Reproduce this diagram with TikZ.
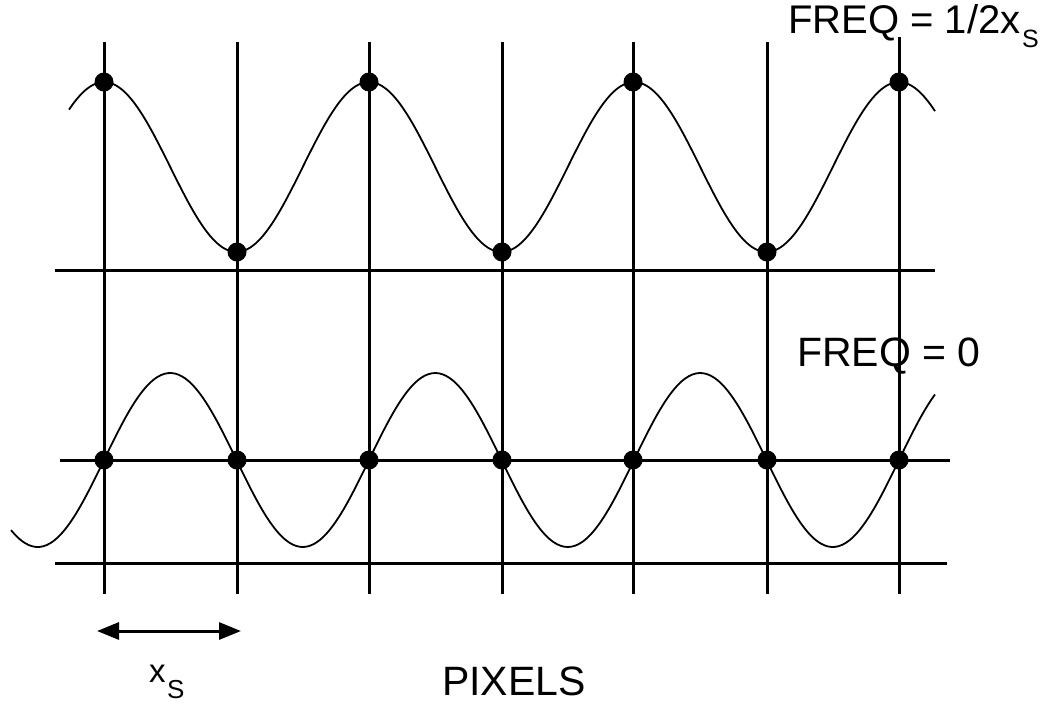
\documentclass[tikz,border=0pt]{standalone}
\usepackage{fontspec}
\setmainfont{Liberation Sans}
\usetikzlibrary{arrows.meta}
\newcommand\mysubS[2]{\kern1.5pt\raisebox{-#2pt}{\fontsize{#1}{#1}\selectfont S}}
\tikzset{
  grid/.style={line width=3pt},
  wave/.style={line width=1.8pt, line join=round},
  sample/.style={circle, fill=black, inner sep=0pt, minimum size=19pt},
  lbl/.style={anchor=base west, inner sep=0pt, font=\fontsize{41}{48}\selectfont},
  dimarrow/.style={line width=3pt, {Triangle[length=22pt,width=17pt]}-{Triangle[length=22pt,width=17pt]}}
}
\begin{document}
\begin{tikzpicture}[x=1pt,y=-1pt]
\useasboundingbox (0,0) rectangle (1057,705);
% vertical grid lines
\foreach \xx in {104,237,369,502,633,767}
  \draw[grid] (\xx,42) -- (\xx,594);
\draw[grid] (899,37) -- (899,594);
% horizontal grid lines
\draw[grid] (55,270) -- (935,270);
\draw[grid] (60,460) -- (950,460);
\draw[grid] (55,563) -- (947,563);
% waves
\draw[wave] plot[domain=69:935, samples=240, smooth] (\x, {167-85*cos(1.358491*(\x-104))});
\draw[wave] plot[domain=11:935, samples=260, smooth] (\x, {460-87*sin(1.358491*(\x-104))});
% sample dots, top
\node[sample] (t1) at (104,82) {};
\node[sample] (t2) at (237,252) {};
\node[sample] (t3) at (369,82) {};
\node[sample] (t4) at (502,252) {};
\node[sample] (t5) at (633,82) {};
\node[sample] (t6) at (767,252) {};
\node[sample] (t7) at (899,82) {};
% sample dots, bottom
\node[sample] (b1) at (104,460) {};
\node[sample] (b2) at (237,460) {};
\node[sample] (b3) at (369,460) {};
\node[sample] (b4) at (502,460) {};
\node[sample] (b5) at (633,460) {};
\node[sample] (b6) at (767,460) {};
\node[sample] (b7) at (899,460) {};
% labels
\node[lbl, font=\fontsize{40}{48}\selectfont] (f1) at (788,33) {FREQ = 1/2x\mysubS{25}{14}};
\node[lbl] (f0) at (797,366) {FREQ = 0};
\node[lbl] (px) at (442,695) {PIXELS};
\node[lbl, font=\fontsize{33}{40}\selectfont] (xs) at (149,682) {x\mysubS{26}{16}};
% dimension arrow
\coordinate (aL) at (97,631);
\coordinate (aR) at (241,631);
\draw[dimarrow] (aL) -- (aR);
\end{tikzpicture}
\end{document}
